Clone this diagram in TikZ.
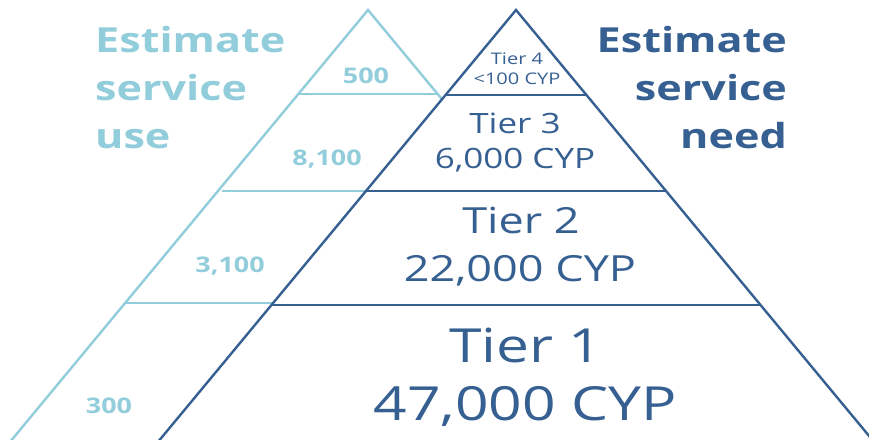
\documentclass[tikz,border=0pt]{standalone}
\usepackage{fontspec}
\setmainfont{Open Sans}
\usepackage{graphicx}
\definecolor{uselight}{HTML}{92CDDC}
\definecolor{needdark}{HTML}{366092}
% text in this figure is set slightly wide
\newcommand{\widetext}[1]{\scalebox{1.25}[1]{#1}}
\newcommand{\fs}[1]{\fontsize{#1}{#1}\selectfont}
\begin{document}
\begin{tikzpicture}[x=1pt,y=-1pt,
  useline/.style={draw=uselight,line width=2.4pt},
  needline/.style={draw=needdark,line width=2.4pt},
  uselabel/.style={text=uselight,font=\bfseries\fs{21.5},inner sep=0pt,anchor=base},
  tierlabel/.style={text=needdark,inner sep=0pt,anchor=base},
  headuse/.style={text=uselight,font=\bfseries\fs{34.5},inner sep=0pt,anchor=base west},
  headneed/.style={text=needdark,font=\bfseries\fs{34.5},inner sep=0pt,anchor=base east}]
\useasboundingbox (0,0) rectangle (869,439);
\fill[white] (0,0) rectangle (869,439);
\clip (0,0) rectangle (869,439);

% pyramid of service use (behind)
\coordinate (ua) at (368,10);
\coordinate (ul) at (-5,460);
\coordinate (ur) at (741,460);
\draw[useline,line join=miter] (ul) -- (ua) -- (ur);
\draw[useline] (298.3,94) -- (438,94);
\draw[useline] (222,191) -- (400,191);
\draw[useline] (126,303) -- (300,303);

% pyramid of service need (in front)
\coordinate (na) at (516,10);
\coordinate (nl) at (143,460);
\coordinate (nr) at (889,460);
\filldraw[needline,fill=white,line join=miter] (nl) -- (na) -- (nr);
\draw[needline] (445.5,95) -- (586.5,95);
\draw[needline] (365.8,191) -- (666.2,191);
\draw[needline] (271,305) -- (761,305);

% headings
\node[headuse] (hu1) at (95,52) {\widetext{Estimate}};
\node[headuse] (hu2) at (95,100) {\widetext{service}};
\node[headuse] (hu3) at (95,148) {\widetext{use}};
\node[headneed] (hn1) at (787,52) {\widetext{Estimate}};
\node[headneed] (hn2) at (787,100) {\widetext{service}};
\node[headneed] (hn3) at (787,148) {\widetext{need}};

% service use figures
\node[uselabel] (u4) at (366,83) {\widetext{500}};
\node[uselabel] (u3) at (327,165) {\widetext{8,100}};
\node[uselabel] (u2) at (230,272) {\widetext{3,100}};
\node[uselabel] (u1) at (109,413) {\widetext{300}};

% service need tiers
\node[tierlabel,font=\fs{16}] (t4a) at (517,64) {\widetext{Tier 4}};
\node[tierlabel,font=\fs{16}] (t4b) at (517,84) {\widetext{<100 CYP}};
\node[tierlabel,font=\fs{28}] (t3a) at (515,133) {\widetext{Tier 3}};
\node[tierlabel,font=\fs{28}] (t3b) at (515,168) {\widetext{6,000 CYP}};
\node[tierlabel,font=\fs{36}] (t2a) at (521,233) {\widetext{Tier 2}};
\node[tierlabel,font=\fs{36}] (t2b) at (520,281) {\widetext{22,000 CYP}};
\node[tierlabel,font=\fs{47}] (t1a) at (526,362) {\widetext{Tier 1}};
\node[tierlabel,font=\fs{47}] (t1b) at (525,420) {\widetext{47,000 CYP}};
\end{tikzpicture}
\end{document}
